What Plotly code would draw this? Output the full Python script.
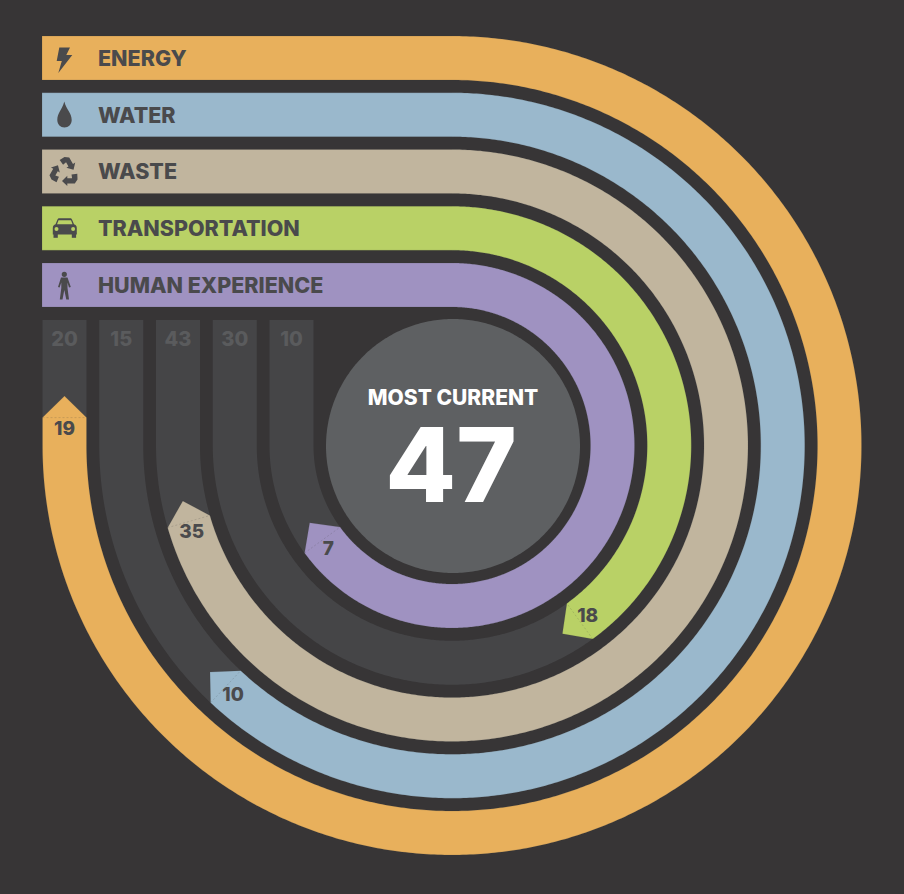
import math
import plotly.graph_objects as go

# ---- data ----
categories = ["ENERGY", "WATER", "WASTE", "TRANSPORTATION", "HUMAN EXPERIENCE"]
current_values = [19, 10, 35, 18, 7]
possible_values = [20, 15, 43, 30, 10]
# share of each track that is filled, as drawn in the picture
filled_share = [0.950, 0.765, 0.857, 0.475, 0.743]
most_current = 47
center_title = "MOST CURRENT"
colors = ["#E8B05C", "#9AB8CC", "#C1B59E", "#B9D166", "#9F92C1"]

BG = "#373536"
TRACK = "#454547"
INK = "#4A4A4C"
TRACK_INK = "#5A5B5D"
HUB = "#5E6062"

W, H = 904, 894
CX, CY = 452.0, 445.5
R0, PITCH, BAND = 409.5, 56.75, 44.0
LEFT, TRACK_TOP = 42.0, 320.0
HEAD = 21.5
FONT = "Inter"
TEXT_DY = 2.5


def on_ring(r, deg):
    a = math.radians(deg)
    return CX + r * math.sin(a), CY - r * math.cos(a)


def end_point(r_mid, r, length):
    """Point on the band at radius r, for path length along the midline."""
    arc = r_mid * math.radians(270)
    if length <= arc:
        return on_ring(r, math.degrees(length / r_mid))
    return CX - r, CY - (length - arc)


def band_polygon(r_out, share, with_head, x_start):
    r_in = r_out - BAND
    r_mid = r_out - BAND / 2
    arc = r_mid * math.radians(270)
    total = arc + (CY - TRACK_TOP)
    length = share * total
    end_deg = math.degrees(min(length / r_mid, math.radians(270)))
    steps = max(2, int(end_deg * 2))
    degs = [end_deg * k / steps for k in range(steps + 1)]
    xs, ys = [x_start], [CY - r_out]
    for d in degs:
        x, y = on_ring(r_out, d)
        xs.append(x); ys.append(y)
    if length > arc:
        xs.append(CX - r_out); ys.append(CY - (length - arc))
    base_out = end_point(r_mid, r_out, length)
    base_in = end_point(r_mid, r_in, length)
    if with_head:
        if length > arc:
            apex = (CX - r_mid, CY - (length - arc) - HEAD)
        else:
            a = length / r_mid
            mx, my = on_ring(r_mid, math.degrees(a))
            apex = (mx + HEAD * math.cos(a), my + HEAD * math.sin(a))
        xs.append(apex[0]); ys.append(apex[1])
    if length > arc:
        xs.append(CX - r_in); ys.append(CY - (length - arc))
    for d in reversed(degs):
        x, y = on_ring(r_in, d)
        xs.append(x); ys.append(y)
    xs.append(x_start); ys.append(CY - r_in)
    xs.append(x_start); ys.append(CY - r_out)
    return xs, ys, base_out, base_in, length, r_mid


fig = go.Figure()
label_x, label_y, label_t = [], [], []

for i, cat in enumerate(categories):
    r_out = R0 - i * PITCH
    r_mid = r_out - BAND / 2
    # unfilled track
    xs, ys, *_ = band_polygon(r_out, 1.0, False, CX)
    fig.add_trace(go.Scatter(x=xs, y=ys, mode="lines", fill="toself", fillcolor=TRACK,
                             line=dict(width=0, color=TRACK, simplify=False),
                             hoverinfo="skip", showlegend=False))
    fig.add_trace(go.Scatter(x=[CX - r_mid], y=[338 + TEXT_DY], mode="text", text=[str(possible_values[i])],
                             textfont=dict(family=FONT, size=20, color=TRACK_INK, weight=800),
                             textposition="middle center", hoverinfo="skip", showlegend=False))

for i, cat in enumerate(categories):
    r_out = R0 - i * PITCH
    xs, ys, b_out, b_in, length, r_mid = band_polygon(r_out, filled_share[i], True, LEFT)
    fig.add_trace(go.Scatter(x=xs, y=ys, mode="lines", fill="toself", fillcolor=colors[i],
                             line=dict(width=0.6, color="rgba(60,60,60,0.25)", simplify=False),
                             hoverinfo="skip", showlegend=False, name=cat))
    # faint seam at the base of the arrow head
    fig.add_trace(go.Scatter(x=[b_out[0], b_in[0]], y=[b_out[1], b_in[1]], mode="lines",
                             line=dict(width=0.6, color="rgba(60,60,60,0.3)", dash="2px,2px"),
                             hoverinfo="skip", showlegend=False))
    lx, ly = end_point(r_mid, r_mid, length - 10)
    label_x.append(lx); label_y.append(ly + TEXT_DY); label_t.append(str(current_values[i]))
    # category label
    fig.add_trace(go.Scatter(x=[98], y=[CY - r_out + BAND / 2 + TEXT_DY], mode="text", text=[cat],
                             textfont=dict(family=FONT, size=21.5, color=INK, weight=800),
                             textposition="middle right", hoverinfo="skip", showlegend=False))

fig.add_trace(go.Scatter(x=label_x, y=label_y, mode="text", text=label_t,
                         textfont=dict(family=FONT, size=19, color=INK, weight=800),
                         textposition="middle center", hoverinfo="skip", showlegend=False))

# centre hub
hub_r = 127
hub = [on_ring(hub_r, d) for d in range(0, 361, 1)]
fig.add_trace(go.Scatter(x=[p[0] + 1 for p in hub], y=[p[1] + 0.5 for p in hub], mode="lines",
                         fill="toself", fillcolor=HUB, line=dict(width=0, color=HUB, simplify=False),
                         hoverinfo="skip", showlegend=False))
fig.add_trace(go.Scatter(x=[453], y=[400], mode="text", text=[center_title],
                         textfont=dict(family=FONT, size=21, color="white", weight=800),
                         textposition="middle center", hoverinfo="skip", showlegend=False))
fig.add_trace(go.Scatter(x=[451], y=[476.5], mode="text", text=[str(most_current)],
                         textfont=dict(family=FONT, size=103, color="white", weight=800),
                         textposition="middle center", hoverinfo="skip", showlegend=False))


# ---- icons ----
def poly(points):
    return "M" + " L".join(f"{x:.2f},{y:.2f}" for x, y in points) + " Z"


def shape(path, color=INK):
    return dict(type="path", path=path, xref="x", yref="y", fillcolor=color, line=dict(width=0),
                layer="above")


def circle(x, y, r, color=INK):
    return dict(type="circle", xref="x", yref="y", x0=x - r, x1=x + r, y0=y - r, y1=y + r,
                fillcolor=color, line=dict(width=0), layer="above")


def rot(pts, deg, c):
    a = math.radians(deg)
    return [(c[0] + x * math.cos(a) - y * math.sin(a), c[1] + x * math.sin(a) + y * math.cos(a))
            for x, y in pts]


shapes = []
# bolt
shapes.append(shape(poly([(59.3, 47.5), (70, 47.5), (66.3, 55), (72.3, 55), (58.3, 73), (61.8, 61), (56.7, 61)])))
# drop
shapes.append(shape("M64.3,101.5 C62,110 57.3,113 57.3,120 C57.3,124.5 60.5,127.5 64.5,127.5 "
                    "C68.5,127.5 71.7,124.5 71.7,120 C71.7,113 66.5,110 64.3,101.5 Z"))
# recycling arrows
arrow = [(-2.5, 9), (2.8, 3.8), (2.8, 6.2), (7.6, 6.2), (7.0, 2.4), (12.8, 1.8), (13.0, 7.5), (10.3, 11.4),
         (2.8, 11.4), (2.8, 14.0)]
for d in (0, 120, 240):
    shapes.append(shape(poly(rot(arrow, d, (64.5, 172.0)))))
# car
shapes.append(shape("M52.8,228 C52.8,225.5 54,224.8 55.5,224.2 L57.5,219.5 C57.8,218.6 58.5,218.2 59.5,218.2 "
                    "L70,218.2 C71,218.2 71.7,218.6 72,219.5 L74,224.2 C75.6,224.8 76.8,225.5 76.8,228 "
                    "L76.8,234.5 L52.8,234.5 Z"))
shapes.append(shape(poly([(58.5, 220.2), (71, 220.2), (72.5, 224.3), (57, 224.3)]), colors[3]))
shapes.append(circle(56.5, 229, 2, colors[3]))
shapes.append(circle(73.1, 229, 2, colors[3]))
shapes.append(shape(poly([(53.5, 233), (57.8, 233), (57.8, 237.8), (53.5, 237.8)])))
shapes.append(shape(poly([(71.8, 233), (76.1, 233), (76.1, 237.8), (71.8, 237.8)])))
# person
shapes.append(circle(64.3, 274.3, 2.6))
shapes.append(shape(poly([(61, 277.5), (67.5, 277.5), (70.8, 287), (69, 287.6), (67.5, 282.5), (67.5, 288),
                          (69, 299.5), (66.3, 299.5), (64.3, 290), (62.5, 299.5), (59.8, 299.5), (61.3, 288),
                          (61.3, 282.5), (59.6, 287.6), (58, 287)])))

fig.update_layout(
    width=W, height=H,
    margin=dict(l=0, r=0, t=0, b=0, pad=0),
    paper_bgcolor=BG, plot_bgcolor=BG,
    showlegend=False,
    shapes=shapes,
    xaxis=dict(range=[0, W], visible=False, fixedrange=True),
    yaxis=dict(range=[H, 0], visible=False, fixedrange=True),
)
fig.write_html("out.html", config={"displayModeBar": False},
               post_script="document.body.style.margin='0';document.body.style.background='#373536';")
